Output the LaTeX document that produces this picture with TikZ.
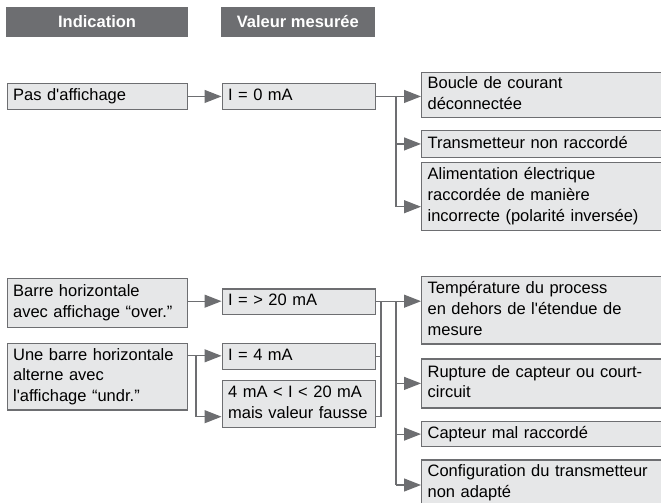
\documentclass[tikz,border=0pt]{standalone}
\usepackage{fontspec}
\setmainfont{Liberation Sans}
\usetikzlibrary{arrows.meta}
\definecolor{dgray}{HTML}{6D6E71}
\definecolor{lgray}{HTML}{E6E7E8}
\begin{document}
\begin{tikzpicture}[x=1pt,y=-1pt,
  box/.style={draw=dgray, fill=lgray, line width=1.2pt, inner xsep=6pt, inner ysep=0pt,
    align=left, anchor=north west, font=\fontsize{16.5}{20.7}\selectfont,
    execute at begin node=\strut, execute at end node=\strut},
  lbox/.style={box, text width=168.5pt},
  mbox/.style={box, text width=141pt},
  rbox/.style={box, text width=238pt},
  hdr/.style={fill=dgray, text=white, inner sep=0pt, anchor=north west,
    font=\fontsize{16.5}{20.7}\selectfont\bfseries},
  conn/.style={draw=dgray, line width=1.2pt},
  arr/.style={conn, -{Triangle[length=17pt,width=13pt]}}]
\useasboundingbox (0,0) rectangle (661,503);
\clip (0,0) rectangle (661,503);

% headers
\node[hdr, minimum width=181.7pt, minimum height=30pt] (h1) at (6,6.7) {Indication};
\node[hdr, minimum width=153.3pt, minimum height=30pt] (h2) at (221,6.7) {Valeur mesurée};

% group 1
\node[lbox, minimum height=25.7pt] (A) at (6.5,83) {Pas d\textquotesingle affichage};
\node[mbox, minimum height=25.7pt] (B) at (221.5,83) {I = 0 mA};
\node[rbox, minimum height=45pt] (C) at (421,71.7) {Boucle de courant\\déconnectée};
\node[rbox, minimum height=26.7pt] (D) at (421,130) {Transmetteur non raccordé};
\node[rbox, minimum height=68.3pt] (E) at (421,161.7) {Alimentation électrique\\raccordée de manière\\incorrecte (polarité inversée)};

% group 2
\node[lbox, minimum height=49pt] (F) at (6.5,278) {Barre horizontale\\avec affichage “over.”};
\node[lbox, minimum height=66.6pt] (G) at (6.5,342.7) {Une barre horizontale\\alterne avec\\l\textquotesingle affichage “undr.”};
\node[mbox, minimum height=25.7pt] (H) at (221.5,288.3) {I = > 20 mA};
\node[mbox, minimum height=26.3pt] (I) at (221.5,342.7) {I = 4 mA};
\node[mbox, minimum height=46.7pt] (J) at (221.5,380) {4 mA < I < 20 mA\\mais valeur fausse};
\node[rbox, minimum height=67.3pt] (K) at (421,276) {Température du process\\en dehors de l\textquotesingle étendue de\\mesure};
\node[rbox, minimum height=49pt] (L) at (421,358.3) {Rupture de capteur ou court-\\circuit};
\node[rbox, minimum height=25pt] (M) at (421,421) {Capteur mal raccordé};
\node[rbox, minimum height=46pt] (N) at (421,459.3) {Configuration du transmetteur\\non adapté};

% connectors group 1
\coordinate (b1) at (396,95.8);
\coordinate (b1e) at (396,206.7);
\draw[arr] (A.east) -- (B.west);
\draw[arr] (B.east) -- (B.east -| C.west);
\draw[conn] (b1) -- (b1e);
\draw[arr] (b1 |- D.west) -- (D.west);
\draw[arr] (b1e) -- (b1e -| E.west);

% connectors group 2
\coordinate (h0) at (187,301.2);
\coordinate (g0) at (196,355.8);
\coordinate (g1) at (196,416.7);
\coordinate (c0) at (381,301.2);
\coordinate (c1) at (381,416.7);
\coordinate (m0) at (396,301.2);
\coordinate (m1) at (396,485);
\draw[arr] (h0) -- (H.west |- h0);
\draw[arr] (G.east |- g0) -- (I.west |- g0);
\draw[conn] (g0) -- (g1);
\draw[arr] (g1) -- (g1 -| J.west);
\draw[conn] (I.east) -- (I.east -| c0);
\draw[conn] (J.east |- c1) -- (c1);
\draw[conn] (c0) -- (c1);
\draw[arr] (H.east |- m0) -- (m0 -| K.west);
\draw[conn] (m0) -- (m1);
\draw[arr] (m0 |- L.west) -- (L.west);
\draw[arr] (m0 |- M.west) -- (M.west);
\draw[arr] (m1) -- (m1 -| N.west);
\end{tikzpicture}
\end{document}
